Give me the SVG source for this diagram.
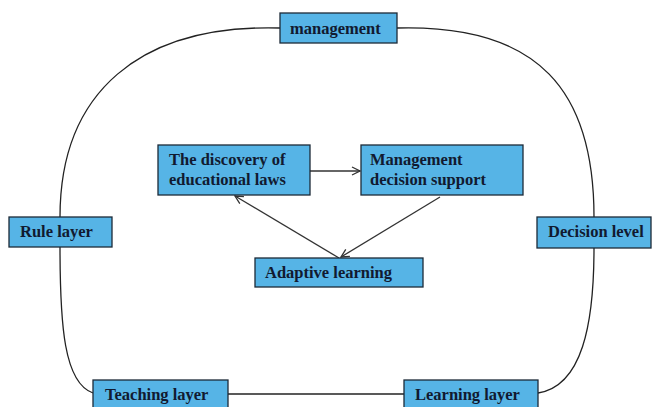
<svg xmlns="http://www.w3.org/2000/svg" width="652" height="407" viewBox="0 0 652 407">
  <style>
    .box { fill: #56b4e6; stroke: #1c2a38; stroke-width: 1.3; }
    .lbl { font-family: "Liberation Serif", "Times New Roman", serif; font-weight: bold; font-size: 16.5px; fill: #111a30; }
    .ring { fill: none; stroke: #222; stroke-width: 1.3; }
    .arr { fill: none; stroke: #333; stroke-width: 1.3; marker-end: url(#head); }
  </style>
  <defs>
    <marker id="head" viewBox="0 0 10 10" refX="9" refY="5" markerWidth="10" markerHeight="10" markerUnits="userSpaceOnUse" orient="auto">
      <path d="M1,1 L9,5 L1,9" fill="none" stroke="#333" stroke-width="1.3"/>
    </marker>
  </defs>
  <rect width="652" height="407" fill="#ffffff"/>

  <!-- outer ring joining the six layer boxes, plus the three inner arrows -->
  <g id="connectors">
    <path class="ring" d="M280,28 C140,24 60,92 60,217"/>
    <path class="ring" d="M397,28 C540,24 594,92 594,217"/>
    <path class="ring" d="M60,247 C60,325 64,383 93,393"/>
    <path class="ring" d="M594,248 C594,325 582,386 538,393"/>
    <path class="ring" d="M228,394 L404,394"/>
    <path class="arr" d="M310,171 L360,171"/>
    <path class="arr" d="M339,258 L235,196"/>
    <path class="arr" d="M440,197 L341,257"/>
  </g>

  <g id="management">
    <rect class="box" x="280" y="13" width="117" height="30"/>
    <text class="lbl" x="290" y="34">management</text>
  </g>
  <g id="discovery">
    <rect class="box" x="158" y="145" width="152" height="50"/>
    <text class="lbl" x="169" y="165">The discovery of</text>
    <text class="lbl" x="169" y="185">educational laws</text>
  </g>
  <g id="decision-support">
    <rect class="box" x="361" y="145" width="162" height="50"/>
    <text class="lbl" x="370" y="165">Management</text>
    <text class="lbl" x="370" y="185">decision support</text>
  </g>
  <g id="adaptive">
    <rect class="box" x="255" y="258" width="168" height="29"/>
    <text class="lbl" x="265" y="278">Adaptive learning</text>
  </g>
  <g id="rule">
    <rect class="box" x="9" y="217" width="103" height="30"/>
    <text class="lbl" x="20" y="237">Rule layer</text>
  </g>
  <g id="decision-level">
    <rect class="box" x="537" y="217" width="114" height="31"/>
    <text class="lbl" x="548" y="237">Decision level</text>
  </g>
  <g id="teaching">
    <rect class="box" x="93" y="380" width="135" height="32"/>
    <text class="lbl" x="105" y="400">Teaching layer</text>
  </g>
  <g id="learning">
    <rect class="box" x="404" y="380" width="134" height="32"/>
    <text class="lbl" x="415" y="400">Learning layer</text>
  </g>
</svg>
